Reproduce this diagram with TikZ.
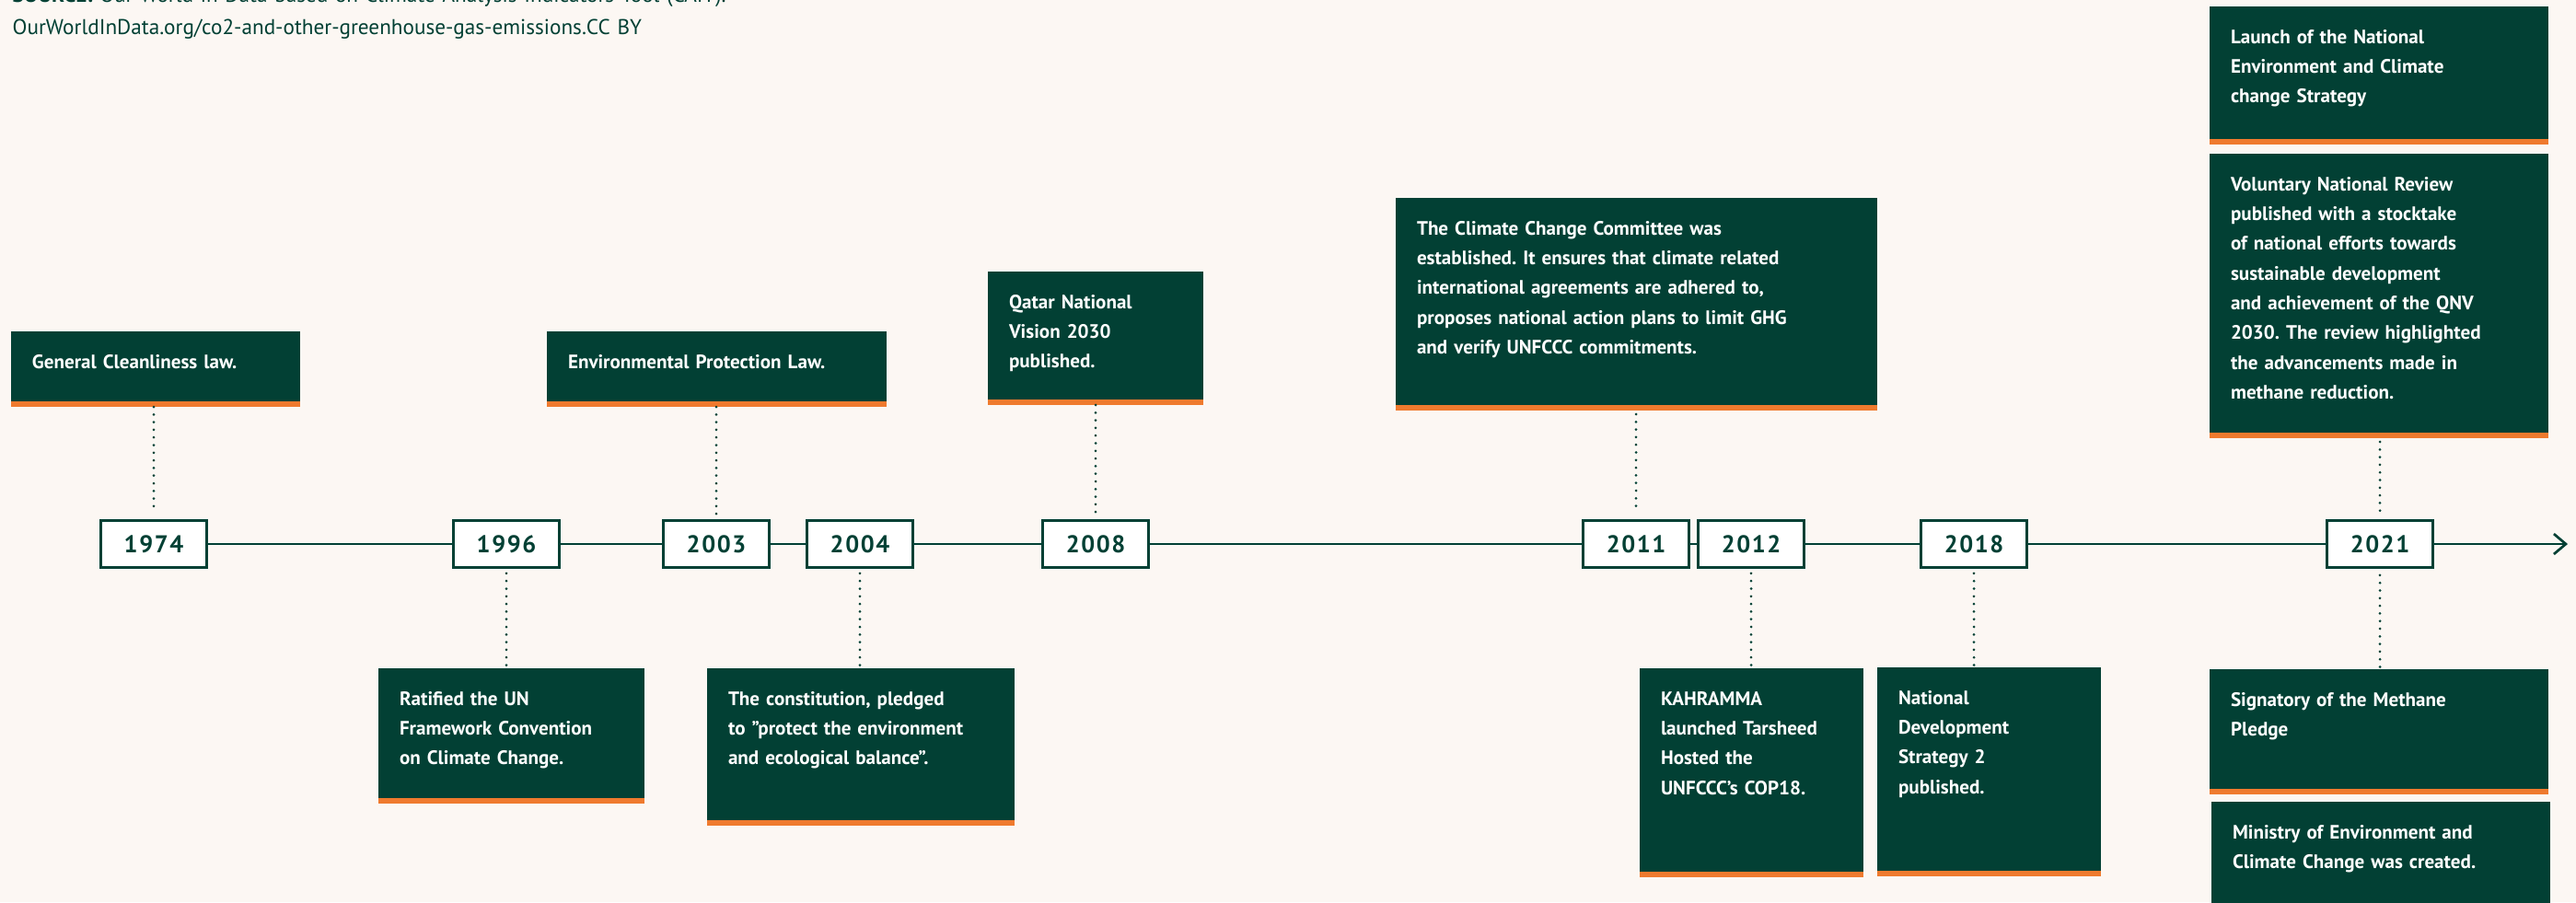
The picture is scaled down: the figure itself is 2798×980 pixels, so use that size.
\documentclass[tikz,border=0pt]{standalone}
\usepackage{fontspec}
\setmainfont{PT Sans}
\newfontfamily\yearfont[LetterSpace=6]{PT Sans}
\usepackage{xcolor}
\usetikzlibrary{arrows.meta, positioning}
\frenchspacing

\definecolor{pagebg}{HTML}{FCF7F3}
\definecolor{deepgreen}{HTML}{024034}
\definecolor{accent}{HTML}{EF7A2E}

\begin{document}
\begin{tikzpicture}[
    x=0.1mm, y=-0.1mm,
    event/.style={rectangle, anchor=north west, fill=deepgreen, text=white, align=left, inner xsep=2.3mm, inner ysep=0pt, outer sep=0pt, text height=4mm, font=\fontsize{6}{9.2}\selectfont\bfseries,
        path picture={\fill[accent] (path picture bounding box.south west) rectangle ([yshift=0.6mm]path picture bounding box.south east);}},
    year/.style={rectangle, draw=deepgreen, line width=0.28mm, fill=white, minimum width=11.5mm, minimum height=5.1mm, inner sep=0pt, text=deepgreen, font=\yearfont\fontsize{7.5}{8}\selectfont\bfseries},
    tline/.style={draw=deepgreen, line width=0.27mm},
    dots/.style={draw=deepgreen, line width=0.3mm, line cap=round, dash pattern=on 0pt off 0.83mm}
]
\useasboundingbox (0,0) rectangle (2798,980);
\fill[pagebg] (0,0) rectangle (2798,980);

% source line
\node[anchor=north west, align=left, inner sep=0pt, text width=90mm, text height=1.6mm, text=deepgreen, font=\fontsize{6.6}{9.96}\selectfont] (source) at (13,-14) {\textbf{SOURCE:} Our World in Data based on Climate Analysis Indicators Tool (CAIT).\\OurWorldInData.org/co2-and-other-greenhouse-gas-emissions.CC BY};

% years on the line
\node[year] (y1974) at (167,591) {1974};
\node[year] (y1996) at (550,591) {1996};
\node[year] (y2003) at (778,591) {2003};
\node[year] (y2004) at (934,591) {2004};
\node[year] (y2008) at (1190,591) {2008};
\node[year] (y2011) at (1777,591) {2011};
\node[year] (y2012) at (1902,591) {2012};
\node[year] (y2018) at (2144,591) {2018};
\node[year] (y2021) at (2585,591) {2021};
\coordinate (tlend) at (2789,591);

\draw[tline] (y1974) -- (y1996) -- (y2003) -- (y2004) -- (y2008) -- (y2011) -- (y2012) -- (y2018) -- (y2021);
\draw[tline, -{Straight Barb[length=1.3mm, width=2.2mm]}] (y2021) -- (tlend);

% events above
\node[event, text width=26.8mm, text depth=4.2mm] (eclean) at (12,360) {General Cleanliness law.};
\node[event, text width=32.3mm, text depth=4.2mm] (eprotect) at (594,360) {Environmental Protection Law.};
\node[event, text width=18.8mm, text depth=10.5mm] (eqnv) at (1073,295) {Qatar National\\Vision 2030\\published.};
\node[event, text width=47.7mm, text depth=19.1mm] (ecommittee) at (1516,215) {The Climate Change Committee was\\established. It ensures that climate related\\international agreements are adhered to,\\proposes national action plans to limit GHG\\and verify UNFCCC commitments.};
\node[event, text width=32.2mm, text depth=11mm] (elaunch) at (2400,7) {Launch of the National\\Environment and Climate\\change Strategy};
\node[event, text width=32.2mm, text depth=26.9mm] (ereview) at (2400,167) {Voluntary National Review\\published with a stocktake\\of national efforts towards\\sustainable development\\and achievement of the QNV\\2030. The review highlighted\\the advancements made in\\methane reduction.};

% events below
\node[event, text width=24.3mm, text depth=10.7mm] (eunfccc) at (411,726) {Ratified the UN\\Framework Convention\\on Climate Change.};
\node[event, text width=28.8mm, text depth=13.1mm] (econst) at (768,726) {The constitution, pledged\\to "protect the environment\\and ecological balance”.};
\node[event, text width=19.7mm, text depth=18.7mm] (ekahramaa) at (1781,726) {KAHRAMMA\\launched Tarsheed\\Hosted the\\UNFCCC’s COP18.};
\node[event, text width=19.7mm, text depth=18.7mm] (ends) at (2039,725) {National\\Development\\Strategy 2\\published.};
\node[event, text width=32.2mm, text depth=9.6mm] (emethane) at (2400,727) {Signatory of the Methane\\Pledge};
\node[event, text width=32.2mm, text depth=12mm] (eministry) at (2402,871) {Ministry of Environment and\\Climate Change was created.};

% dotted leaders
\draw[dots, shorten >=0.7mm] (eclean.south -| y1974) -- (y1974);
\draw[dots, shorten >=0.5mm] (eprotect.south -| y2003) -- (y2003);
\draw[dots, shorten >=0.4mm] (eqnv.south -| y2008) -- (y2008);
\draw[dots, shorten <=0.4mm, shorten >=1.2mm] (ecommittee.south -| y2011) -- (y2011);
\draw[dots, shorten <=0.4mm, shorten >=0.5mm] (ereview.south -| y2021) -- (y2021);
\draw[dots, shorten <=0.5mm] (y1996) -- (y1996 |- eunfccc.north);
\draw[dots, shorten <=0.5mm] (y2004) -- (y2004 |- econst.north);
\draw[dots, shorten <=0.5mm] (y2012) -- (y2012 |- ekahramaa.north);
\draw[dots, shorten <=0.5mm] (y2018) -- (y2018 |- ends.north);
\draw[dots, shorten <=0.7mm] (y2021) -- (y2021 |- emethane.north);
\end{tikzpicture}
\end{document}
